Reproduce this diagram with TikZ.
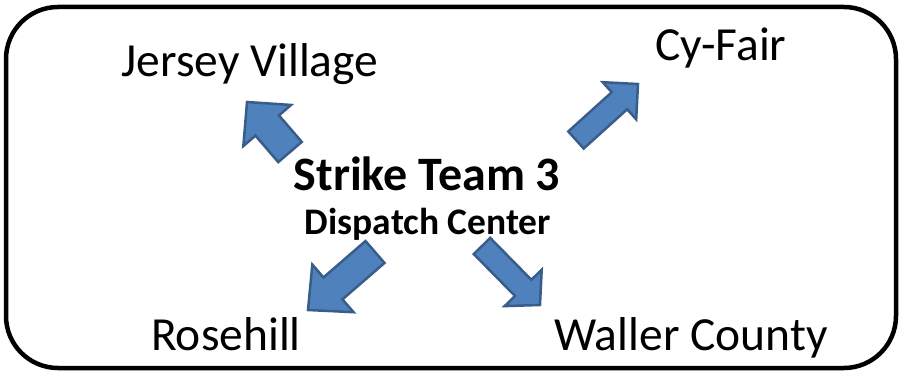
\documentclass[tikz,border=0pt]{standalone}
\usepackage{fontspec}
\setmainfont{Carlito}
\usetikzlibrary{calc}
\definecolor{arrfill}{HTML}{4F81BD}
\definecolor{arrline}{HTML}{385D8A}
\tikzset{
  lbl/.style={anchor=base, inner sep=0pt, font=\fontsize{47.5}{52}\selectfont},
  ttl/.style={anchor=base, inner sep=0pt, font=\bfseries\fontsize{48}{52}\selectfont},
  sub/.style={anchor=base, inner sep=0pt, font=\bfseries\fontsize{37.5}{41}\selectfont},
  blockarr/.style={fill=arrfill, draw=arrline, line width=2.5pt, line join=miter},
  frame/.style={draw=black, line width=4.5pt, rounded corners=52pt}
}
% #1 tail, #2 tip, #3 shaft width, #4 head width, #5 head length, #6 unique name
\newcommand{\blockarrow}[6]{%
  \coordinate (#6hb) at ($(#2)!#5!(#1)$);
  \draw[blockarr]
    ($(#1)!#3/2!90:(#2)$) --
    ($(#6hb)!#3/2!90:(#2)$) --
    ($(#6hb)!#4/2!90:(#2)$) --
    (#2) --
    ($(#6hb)!#4/2!-90:(#2)$) --
    ($(#6hb)!#3/2!-90:(#2)$) --
    ($(#1)!#3/2!-90:(#2)$) -- cycle;
}
\begin{document}
\begin{tikzpicture}[x=1pt,y=-1pt]
\useasboundingbox (0,0) rectangle (903,377);
\draw[frame] (6,7) rectangle (896,368);

\node[lbl] (jv) at (250,77) {Jersey Village};
\node[lbl] (cf) at (721,61) {Cy-Fair};
\node[ttl] (st) at (427,190) {Strike Team 3};
\node[sub] (dc) at (428,234) {Dispatch Center};
\node[lbl] (rh) at (226,350) {Rosehill};
\node[lbl] (wc) at (691,350) {Waller County};

\coordinate (a1t) at (290,152); \coordinate (a1h) at (247,102);
\coordinate (a2t) at (576,140); \coordinate (a2h) at (638,84);
\coordinate (a3t) at (375,252); \coordinate (a3h) at (308,310);
\coordinate (a4t) at (482,246); \coordinate (a4h) at (540,305);

\blockarrow{a1t}{a1h}{31pt}{63pt}{31pt}{aa}
\blockarrow{a2t}{a2h}{23pt}{50pt}{25pt}{ab}
\blockarrow{a3t}{a3h}{29pt}{63pt}{33pt}{ac}
\blockarrow{a4t}{a4h}{23pt}{52pt}{24pt}{ad}
\end{tikzpicture}
\end{document}
